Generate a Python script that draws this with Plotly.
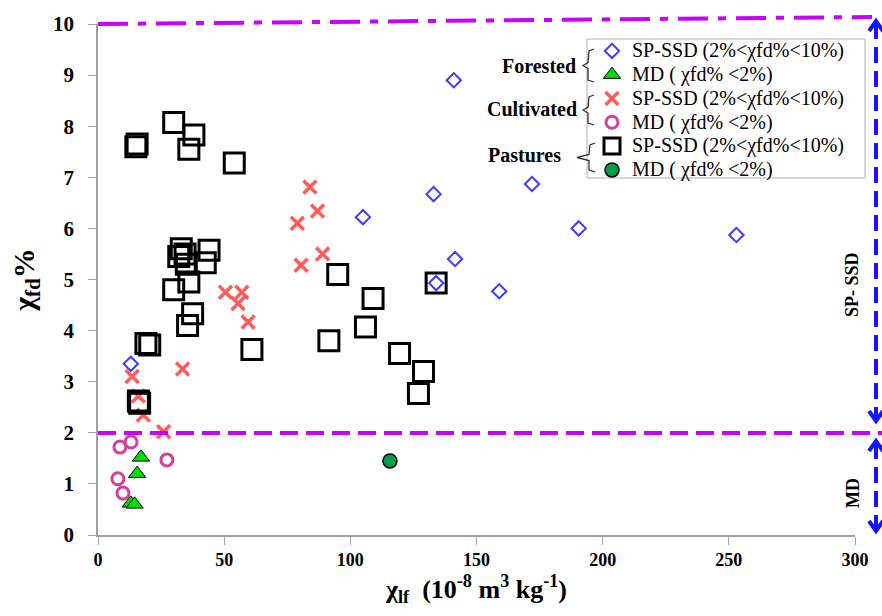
import plotly.graph_objects as go

# ---------------- data ----------------
forest_ssd_x = [13, 141, 105, 133, 172, 190.5, 253, 141.5, 134, 159]
forest_ssd_y = [3.35, 8.9, 6.22, 6.67, 6.87, 6.0, 5.87, 5.4, 4.93, 4.77]

forest_md_x = [17, 15.5, 13, 14.5]
forest_md_y = [1.52, 1.2, 0.62, 0.6]

cult_ssd_x = [13.5, 16, 18, 26, 33.5, 50.5, 57, 55.5, 59.5, 84, 87, 79, 89, 80.5]
cult_ssd_y = [3.1, 2.72, 2.35, 2.02, 3.25, 4.75, 4.75, 4.53, 4.17, 6.81, 6.34, 6.1, 5.5, 5.28]

cult_md_x = [8.7, 13.1, 27.3, 7.9, 9.9]
cult_md_y = [1.72, 1.82, 1.47, 1.1, 0.82]

past_ssd_x = [15, 15.5, 30, 38, 36, 54,
              33, 32, 34.5, 35, 44, 42.5, 30, 36, 37.5, 35.5,
              19, 20.5, 61, 16, 16.5,
              95, 109, 106, 91.5, 134, 119.5, 129, 127]
past_ssd_y = [7.6, 7.65, 8.07, 7.83, 7.55, 7.28,
              5.6, 5.45, 5.5, 5.3, 5.57, 5.33, 4.8, 4.95, 4.33, 4.1,
              3.75, 3.72, 3.63, 2.62, 2.58,
              5.1, 4.63, 4.07, 3.8, 4.93, 3.55, 3.2, 2.77]

past_md_x = [115.7]
past_md_y = [1.45]

ssd_label = "SP-SSD (2%&lt;χfd%&lt;10%)"
md_label = "MD ( χfd% &lt;2%)"
group_labels = ["Forested", "Cultivated", "Pastures"]

x_ticks = [0, 50, 100, 150, 200, 250, 300]
y_ticks = list(range(0, 11))

FONT = "Liberation Serif"

# ---------------- geometry (window pixels) ----------------
W, H = 882, 616
L, R, T, B = 98, 855, 24, 535          # plot area in window pixels
def px(p):
    return (p - L) / (R - L)
def py(p):
    return (B - p) / (B - T)

def big(s):
    return f'<span style="font-size:20px">{s}</span>'

fig = go.Figure()

fig.add_trace(go.Scatter(x=forest_ssd_x, y=forest_ssd_y, mode="markers", name=big(ssd_label),
                         marker=dict(symbol="diamond-open", size=11, color="#3c3cff",
                                     line=dict(width=2, color="#3c3cff"))))
fig.add_trace(go.Scatter(x=forest_md_x, y=forest_md_y, mode="markers", name=big(md_label),
                         marker=dict(symbol="triangle-up", size=15, color="#00e000",
                                     line=dict(width=1, color="#000000"))))
fig.add_trace(go.Scatter(x=cult_ssd_x, y=cult_ssd_y, mode="markers", name=big(ssd_label),
                         marker=dict(symbol="x-thin", size=13, color="#ff5c5c",
                                     line=dict(width=3.5, color="#ff5c5c"))))
fig.add_trace(go.Scatter(x=cult_md_x, y=cult_md_y, mode="markers", name=big(md_label),
                         marker=dict(symbol="circle-open", size=12, color="#d6409a",
                                     line=dict(width=3, color="#d6409a"))))
fig.add_trace(go.Scatter(x=past_ssd_x, y=past_ssd_y, mode="markers", name=big(ssd_label),
                         marker=dict(symbol="square-open", size=20, color="#000000",
                                     line=dict(width=3, color="#000000"))))
fig.add_trace(go.Scatter(x=past_md_x, y=past_md_y, mode="markers", name=big(md_label),
                         marker=dict(symbol="circle", size=14, color="#00a04a",
                                     line=dict(width=1.5, color="#000000"))))

shapes = []
# legend frame (drawn first, so the arrows sit on top)
shapes.append(dict(type="rect", xref="paper", yref="paper", x0=px(587), x1=px(865), y0=py(39), y1=py(178),
                   fillcolor="white", line=dict(color="#b0b0b0", width=1), layer="above"))

purple = "#c800ff"
shapes.append(dict(type="line", xref="paper", yref="paper", x0=0, x1=px(882), y0=py(433), y1=py(433),
                   line=dict(color=purple, width=4, dash="18px,8px")))
shapes.append(dict(type="line", xref="paper", yref="paper", x0=0, x1=px(872), y0=py(24), y1=py(17),
                   line=dict(color=purple, width=4, dash="30px,10px,8px,10px")))

blue = "#1414ff"
def arrow(y_top, y_bot, xp):
    out = []
    out.append(dict(type="line", xref="paper", yref="paper", x0=px(xp), x1=px(xp),
                    y0=py(y_top + 2), y1=py(y_bot - 2),
                    line=dict(color=blue, width=4, dash="16px,8px"), layer="above"))
    out.append(dict(type="path", xref="paper", yref="paper",
                    path=f"M {px(xp-7)} {py(y_top+10)} L {px(xp)} {py(y_top)} L {px(xp+7)} {py(y_top+10)}",
                    line=dict(color=blue, width=4), layer="above"))
    out.append(dict(type="path", xref="paper", yref="paper",
                    path=f"M {px(xp-7)} {py(y_bot-10)} L {px(xp)} {py(y_bot)} L {px(xp+7)} {py(y_bot-10)}",
                    line=dict(color=blue, width=4), layer="above"))
    return out
shapes += arrow(21, 421, 876)
shapes += arrow(441, 531, 876)

def brace(xv, top, bot, tail=0):
    mid = (top + bot) / 2
    p = (f"M {px(xv+6)} {py(top)} L {px(xv+1)} {py(top+2)} L {px(xv)} {py(mid-3)} "
         f"L {px(xv-5-tail)} {py(mid)} L {px(xv)} {py(mid+3)} L {px(xv)} {py(bot-2)} L {px(xv+6)} {py(bot)}")
    return dict(type="path", xref="paper", yref="paper", path=p,
                line=dict(color="#333333", width=1.3), layer="above")
shapes.append(brace(588, 49, 82))
shapes.append(brace(588, 95, 125))
shapes.append(brace(589, 143, 172, tail=7))

annotations = []
for lab, (xr, yc) in zip(group_labels, [(578, 66), (579, 109), (563, 155)]):
    annotations.append(dict(x=px(xr), y=py(yc), xref="paper", yref="paper", text="<b>" + lab + "</b>",
                            showarrow=False, xanchor="right", yanchor="middle",
                            font=dict(family=FONT, size=20, color="black")))
annotations.append(dict(x=px(852), y=py(285), xref="paper", yref="paper", text="<b>SP- SSD</b>",
                        showarrow=False, textangle=-90, xanchor="center", yanchor="middle",
                        font=dict(family=FONT, size=18, color="black")))
annotations.append(dict(x=px(853), y=py(493), xref="paper", yref="paper", text="<b>MD</b>",
                        showarrow=False, textangle=-90, xanchor="center", yanchor="middle",
                        font=dict(family=FONT, size=18, color="black")))

fig.update_layout(
    width=W, height=H,
    margin=dict(l=L, r=W - R, t=T, b=H - B, autoexpand=False),
    paper_bgcolor="white", plot_bgcolor="white",
    font=dict(family=FONT, color="black"),
    showlegend=True,
    legend=dict(x=px(592), y=py(34), xanchor="left", yanchor="top",
                bgcolor="rgba(0,0,0,0)", borderwidth=0,
                font=dict(family=FONT, size=16, color="black"),
                tracegroupgap=0, itemwidth=30),
    shapes=shapes,
    annotations=annotations,
    xaxis=dict(range=[0, 300], tickvals=x_ticks, ticktext=[f"<b>{v}</b>" for v in x_ticks],
               showgrid=False, zeroline=False, showline=True, linecolor="#a0a0a0", linewidth=1.5,
               ticks="outside", ticklen=8, tickcolor="#a0a0a0",
               tickfont=dict(family=FONT, size=18, color="black"),
               title=dict(text="<b>χ<sub>lf</sub>  (10<sup>-8</sup> m<sup>3</sup> kg<sup>-1</sup>)</b>",
                          font=dict(family=FONT, size=26, color="black"), standoff=10)),
    yaxis=dict(range=[0, 10], tickvals=y_ticks, ticktext=[f"<b>{v}</b>" for v in y_ticks],
               showgrid=False, zeroline=False, showline=True, linecolor="#a0a0a0", linewidth=1.5,
               ticks="outside", ticklen=8, tickcolor="#a0a0a0", ticklabelstandoff=10,
               tickfont=dict(family=FONT, size=21, color="black"),
               title=dict(text="<b>χ<sub>fd</sub>%</b>",
                          font=dict(family=FONT, size=30, color="black"), standoff=10)),
)

# remove the browser's default 8px page margin so the 882x616 figure fills the window exactly
fig.write_html("out.html",
               config={"displayModeBar": False},
               post_script="document.body.style.margin='0px';document.body.style.overflow='hidden';")
